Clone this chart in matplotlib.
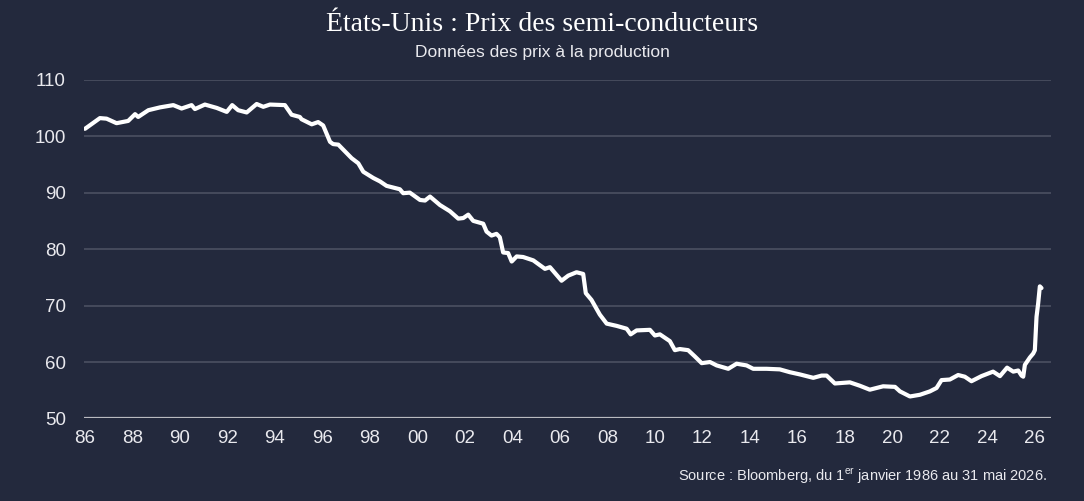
import matplotlib
matplotlib.use('Agg')
import matplotlib.pyplot as plt

# --- data (decimal year, index value) ---
years = [
    1986.00, 1986.63, 1986.91, 1987.33, 1987.82, 1988.11, 1988.24, 1988.67,
    1989.16, 1989.72, 1990.07, 1990.49, 1990.63, 1991.05, 1991.55, 1991.97,
    1992.20, 1992.45, 1992.81, 1993.23, 1993.51, 1993.79, 1994.42, 1994.70,
    1995.05, 1995.12, 1995.55, 1995.82, 1996.03, 1996.32, 1996.45, 1996.67,
    1996.95, 1997.23, 1997.51, 1997.72, 1998.14, 1998.42, 1998.70, 1999.26,
    1999.40, 1999.68, 2000.11, 2000.32, 2000.53, 2000.95, 2001.37, 2001.72,
    2001.93, 2002.14, 2002.35, 2002.77, 2002.91, 2003.12, 2003.33, 2003.47,
    2003.61, 2003.82, 2003.97, 2004.18, 2004.45, 2004.88, 2005.37, 2005.58,
    2006.07, 2006.35, 2006.70, 2006.98, 2007.09, 2007.33, 2007.68, 2007.97,
    2008.39, 2008.81, 2008.98, 2009.23, 2009.79, 2010.00, 2010.21, 2010.63,
    2010.84, 2011.05, 2011.40, 2011.68, 2011.97, 2012.32, 2012.60, 2013.09,
    2013.44, 2013.86, 2014.14, 2014.70, 2015.26, 2015.68, 2016.11, 2016.67,
    2017.02, 2017.23, 2017.58, 2018.21, 2018.63, 2019.05, 2019.61, 2020.11,
    2020.32, 2020.74, 2021.16, 2021.58, 2021.86, 2022.07, 2022.42, 2022.77,
    2023.05, 2023.33, 2023.75, 2024.24, 2024.53, 2024.83, 2025.09, 2025.30,
    2025.44, 2025.51, 2025.58, 2025.79, 2025.93, 2026.00, 2026.07, 2026.14,
    2026.21, 2026.28,
]
prices = [
    101.3, 103.2, 103.1, 102.3, 102.7, 103.9, 103.4, 104.6,
    105.1, 105.5, 104.9, 105.5, 104.8, 105.6, 105.0, 104.3,
    105.5, 104.6, 104.2, 105.7, 105.2, 105.6, 105.5, 103.8,
    103.4, 103.0, 102.1, 102.5, 101.9, 99.0, 98.6, 98.5,
    97.3, 96.1, 95.2, 93.7, 92.6, 92.0, 91.2, 90.6,
    89.9, 90.0, 88.7, 88.6, 89.3, 87.8, 86.7, 85.4,
    85.5, 86.1, 85.0, 84.5, 83.1, 82.4, 82.7, 82.1,
    79.4, 79.3, 77.8, 78.7, 78.6, 78.0, 76.5, 76.8,
    74.4, 75.3, 75.9, 75.6, 72.2, 71.0, 68.4, 66.8,
    66.4, 65.9, 64.9, 65.6, 65.7, 64.7, 64.9, 63.7,
    62.1, 62.3, 62.1, 61.0, 59.8, 60.0, 59.4, 58.8,
    59.7, 59.4, 58.8, 58.8, 58.7, 58.2, 57.8, 57.2,
    57.6, 57.6, 56.2, 56.4, 55.8, 55.1, 55.7, 55.6,
    54.8, 53.9, 54.2, 54.8, 55.4, 56.8, 56.9, 57.7,
    57.4, 56.6, 57.5, 58.3, 57.5, 59.0, 58.3, 58.5,
    57.6, 57.4, 59.5, 60.8, 61.5, 62.1, 68.0, 70.4,
    73.4, 73.1,
]

x_ticks = list(range(1986, 2027, 2))
x_labels = [f'{y % 100:02d}' for y in x_ticks]
y_ticks = [50, 60, 70, 80, 90, 100, 110]

BG = '#23293d'
GRID = '#4b5062'
TXT = '#e9e9ee'

plt.rcParams['font.family'] = ['Liberation Sans', 'DejaVu Sans']
plt.rcParams['mathtext.fontset'] = 'custom'
plt.rcParams['mathtext.rm'] = 'Liberation Sans'

fig = plt.figure(figsize=(10.84, 5.01), dpi=100, facecolor=BG)
ax = fig.add_axes([0.0775, 0.1647, 0.8925, 0.6762])
ax.set_facecolor(BG)

ax.plot(years, prices, color='white', lw=3.0, solid_joinstyle='round',
        solid_capstyle='round', zorder=3)

ax.set_xlim(1985.96, 2026.7)
ax.set_ylim(50, 110)
ax.set_xticks(x_ticks)
ax.set_xticklabels(x_labels)
ax.set_yticks(y_ticks)

for v in y_ticks[1:]:
    ax.axhline(v, color=GRID, lw=1.2, zorder=1)
ax.axhline(50, color='#b9bac0', lw=1.6, zorder=2)

for s in ax.spines.values():
    s.set_visible(False)
ax.tick_params(axis='both', length=0, colors=TXT, labelsize=13.5)
ax.tick_params(axis='y', pad=13)
ax.tick_params(axis='x', pad=8)

fig.text(0.5, 0.952, 'États-Unis : Prix des semi-conducteurs',
         family='Liberation Serif', fontsize=20, color='white',
         ha='center', va='center')
fig.text(0.5, 0.896, 'Données des prix à la production',
         fontsize=12.5, color=TXT, ha='center', va='center')
fig.text(0.966, 0.049,
         r'Source : Bloomberg, du 1$^{\mathrm{er}}$ janvier 1986 au 31 mai 2026.',
         fontsize=10.5, color=TXT, ha='right', va='center')

fig.savefig('out.png', dpi=100, facecolor=BG)
